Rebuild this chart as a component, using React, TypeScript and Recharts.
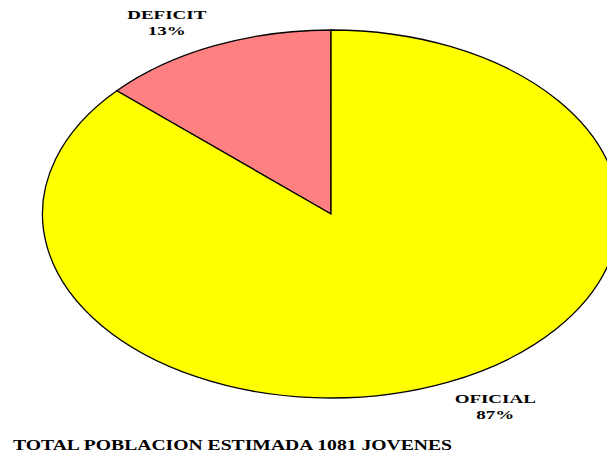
import React from 'react';
import { PieChart, Pie, Cell } from 'recharts';

const categories = ['DEFICIT', 'OFICIAL'];
const values = [144, 937];
const colors = ['#FF8080', '#FFFF00'];
const titleText = 'TOTAL POBLACION ESTIMADA 1081 JOVENES';

const data = categories.map((name, i) => ({ name, value: values[i] }));

const W = 607;
const H = 455;
const CX = 331;
const CY = 214;
const RY = 184;
const RX = 288.5;
const XS = RX / RY;
const RAD = Math.PI / 180;
const FONT = '"Liberation Serif", "Times New Roman", serif';

function EllipseSector(props: any) {
  const { cx, cy, outerRadius, startAngle, endAngle, fill } = props;
  const ry = outerRadius;
  const rx = outerRadius * XS;
  const x0 = cx + rx * Math.cos(startAngle * RAD);
  const y0 = cy - ry * Math.sin(startAngle * RAD);
  const x1 = cx + rx * Math.cos(endAngle * RAD);
  const y1 = cy - ry * Math.sin(endAngle * RAD);
  const delta = Math.abs(endAngle - startAngle);
  const large = delta > 180 ? 1 : 0;
  const sweep = endAngle > startAngle ? 0 : 1;
  const d = `M${cx},${cy} L${x0},${y0} A${rx},${ry} 0 ${large} ${sweep} ${x1},${y1} Z`;
  return <path d={d} fill={fill} stroke="#000" strokeWidth={1.3} strokeLinejoin="miter" />;
}

function renderLabel(props: any) {
  const { cx, cy, midAngle, outerRadius, percent, name } = props;
  const a = (midAngle + 4.6) * RAD;
  const k = 1.19;
  const x = cx + outerRadius * XS * k * Math.cos(a);
  const y = cy - outerRadius * k * Math.sin(a);
  const pct = `${Math.round(percent * 100)}%`;
  return (
    <g transform={`translate(${x},${y}) scale(1.46,1)`}>
      <text x={0} y={-2.9} textAnchor="middle" fontFamily={FONT} fontWeight="bold" fontSize={13} fill="#000">
        {name}
      </text>
      <text x={0} y={12.8} textAnchor="middle" fontFamily={FONT} fontWeight="bold" fontSize={13} fill="#000">
        {pct}
      </text>
    </g>
  );
}

export default function App() {
  return (
    <div style={{ position: 'absolute', left: 0, top: 0, width: W, height: H, background: '#fff' }}>
      <PieChart width={W} height={H} margin={{ top: 0, right: 0, bottom: 0, left: 0 }}>
        <Pie
          data={data}
          dataKey="value"
          nameKey="name"
          cx={CX}
          cy={CY}
          outerRadius={RY}
          startAngle={90}
          endAngle={450}
          stroke="#000"
          shape={EllipseSector}
          label={renderLabel}
          labelLine={false}
          isAnimationActive={false}
        >
          {data.map((d, i) => (
            <Cell key={d.name} fill={colors[i]} />
          ))}
        </Pie>
      </PieChart>
      <svg width={W} height={H} style={{ position: 'absolute', left: 0, top: 0, pointerEvents: 'none' }}>
        <text
          transform="translate(13,450) scale(1.31,1)"
          x={0}
          y={0}
          fontFamily={FONT}
          fontWeight="bold"
          fontSize={15}
          fill="#000"
        >
          {titleText}
        </text>
      </svg>
    </div>
  );
}
